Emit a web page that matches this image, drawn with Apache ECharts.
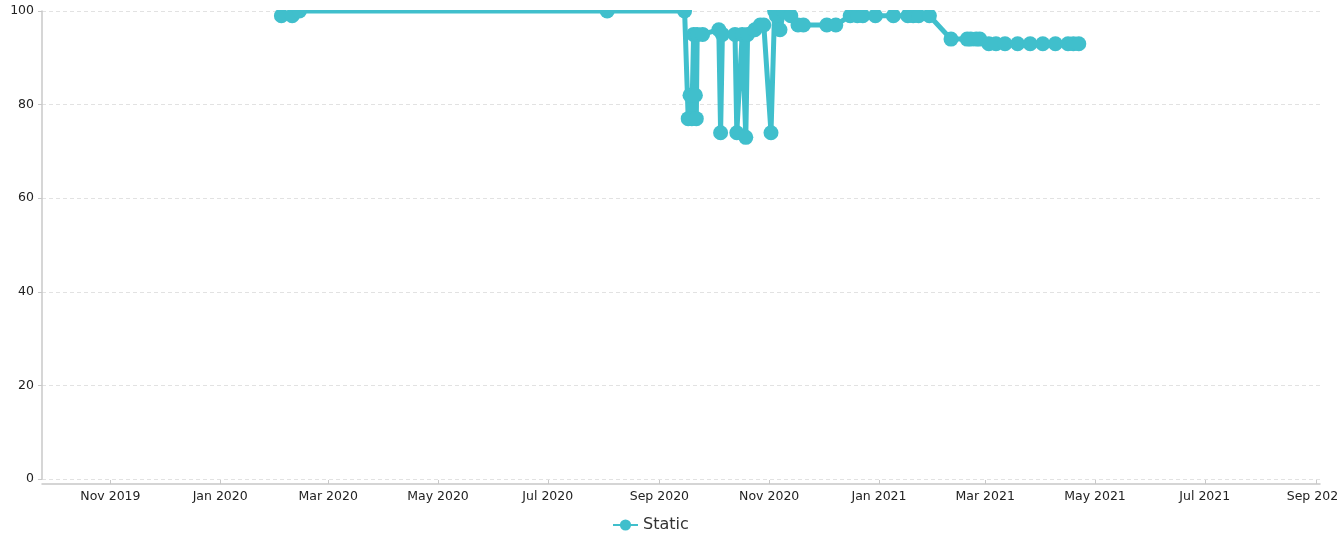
<!DOCTYPE html>
<html>
<head>
<meta charset="utf-8">
<script src="https://cdn.jsdelivr.net/npm/echarts@6/dist/echarts.min.js"></script>
<style>
html,body{margin:0;padding:0;background:#fff;}
#chart{width:1337px;height:537px;}
</style>
</head>
<body>
<div id="chart"></div>
<script>
// Data: dates and values for series "Static"
const dates = [
  '2020-02-04','2020-02-10','2020-02-14','2020-08-03','2020-09-15',
  '2020-09-17','2020-09-18','2020-09-19','2020-09-20','2020-09-21',
  '2020-09-21 12:00','2020-09-22','2020-09-25','2020-10-04','2020-10-05',
  '2020-10-06','2020-10-13','2020-10-14','2020-10-17','2020-10-19',
  '2020-10-20','2020-10-24','2020-10-27','2020-10-29','2020-11-02',
  '2020-11-04','2020-11-05','2020-11-07','2020-11-09','2020-11-13',
  '2020-11-17','2020-11-20','2020-12-03','2020-12-08','2020-12-16',
  '2020-12-20','2020-12-23','2020-12-30','2021-01-09','2021-01-17',
  '2021-01-20','2021-01-23','2021-01-29','2021-02-10','2021-02-19',
  '2021-02-21','2021-02-24','2021-02-26','2021-03-03','2021-03-07',
  '2021-03-12','2021-03-19','2021-03-26','2021-04-02','2021-04-09',
  '2021-04-16','2021-04-19','2021-04-22'
];
const staticValues = [
  99, 99, 100, 100, 100,
  77, 82, 77, 95, 82,
  77, 95, 95, 96, 74,
  95, 95, 74, 95, 73,
  95, 96, 97, 97, 74,
  100, 99, 96, 100, 99,
  97, 97, 97, 97, 99,
  99, 99, 99, 99, 99,
  99, 99, 99, 94, 94,
  94, 94, 94, 93, 93,
  93, 93, 93, 93, 93,
  93, 93, 93
];
const seriesName = 'Static';
const xTickDates = [
  '2019-11-01','2020-01-01','2020-03-01','2020-05-01','2020-07-01','2020-09-01',
  '2020-11-01','2021-01-01','2021-03-01','2021-05-01','2021-07-01','2021-09-01'
];
const monthNames = ['Jan','Feb','Mar','Apr','May','Jun','Jul','Aug','Sep','Oct','Nov','Dec'];

const ts = s => {
  const [d, t] = s.split(' ');
  const [Y, M, D] = d.split('-').map(Number);
  const h = t ? Number(t.split(':')[0]) : 0;
  return Date.UTC(Y, M - 1, D, h);
};
const seriesData = dates.map((d, i) => [ts(d), staticValues[i]]);
const tickTs = xTickDates.map(ts);

const chart = echarts.init(document.getElementById('chart'), null, {renderer: 'canvas'});
chart.setOption({
  animation: false,
  backgroundColor: '#ffffff',
  textStyle: {fontFamily: 'DejaVu Sans'},
  grid: {left: 42, right: 17, top: 11, bottom: 58, containLabel: false, outerBoundsMode: 'none'},
  legend: {
    data: [seriesName],
    left: 607,
    top: 512,
    itemWidth: 25,
    itemHeight: 14,
    itemGap: 10,
    textStyle: {fontFamily: 'DejaVu Sans', fontSize: 16, color: '#333'}
  },
  // white mask above the plot area so markers at 100 are cut at the top edge
  graphic: [{
    type: 'rect',
    silent: true,
    z: 100,
    shape: {x: 43, y: 0, width: 1294, height: 10},
    style: {fill: '#ffffff'}
  }],
  xAxis: {
    type: 'value',
    min: ts('2019-09-24'),
    max: ts('2021-09-03'),
    offset: 5,
    axisLine: {show: true, onZero: false, lineStyle: {color: '#c8c8c8', width: 1.5}},
    axisTick: {show: true, inside: true, length: 4, customValues: tickTs, lineStyle: {color: '#c8c8c8'}},
    axisLabel: {
      customValues: tickTs,
      fontFamily: 'DejaVu Sans',
      fontSize: 12.5,
      color: '#222',
      margin: 6,
      hideOverlap: false,
      formatter: v => { const d = new Date(v); return monthNames[d.getUTCMonth()] + ' ' + d.getUTCFullYear(); }
    },
    splitLine: {show: false}
  },
  yAxis: {
    type: 'value',
    min: 0,
    max: 100,
    interval: 20,
    axisLine: {show: true, lineStyle: {color: '#c8c8c8', width: 1.5}},
    axisTick: {show: true, length: 4, lineStyle: {color: '#c8c8c8'}},
    axisLabel: {
      fontFamily: 'DejaVu Sans',
      fontSize: 12.5,
      color: '#222',
      margin: 8
    },
    splitLine: {show: true, lineStyle: {color: '#e2e2e2', type: [4, 3], width: 1}}
  },
  series: [{
    name: seriesName,
    type: 'line',
    data: seriesData,
    symbol: 'circle',
    symbolSize: 15,
    showAllSymbol: true,
    clip: true,
    itemStyle: {color: '#40bfcc'},
    lineStyle: {color: '#40bfcc', width: 5},
    emphasis: {disabled: true}
  }]
});
</script>
</body>
</html>
